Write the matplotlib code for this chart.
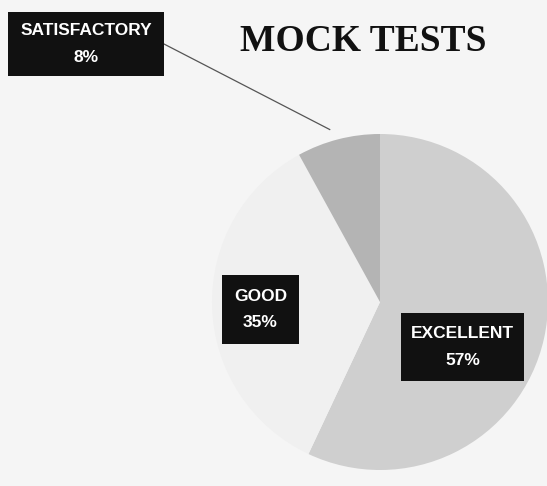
import numpy as np
import matplotlib
matplotlib.use("Agg")
import matplotlib.pyplot as plt
from matplotlib.patches import Rectangle

categories = ["EXCELLENT", "GOOD", "SATISFACTORY"]
values = [57, 35, 8]
colors = ["#cfcfcf", "#f0f0f0", "#b4b4b4"]
title = "MOCK TESTS"

W, H = 547, 486
fig = plt.figure(figsize=(W / 100, H / 100), dpi=100)
fig.patch.set_facecolor("#f5f5f5")
ax = fig.add_axes([0, 0, 1, 1])

cx, cy, r = 380, H - 302, 168
wedges, _ = ax.pie(values, colors=colors, startangle=90, counterclock=False,
                   center=(cx, cy), radius=r, frame=True,
                   wedgeprops=dict(linewidth=0))
ax.set_xlim(0, W)
ax.set_ylim(0, H)
ax.set_aspect("equal")
ax.axis("off")

# label boxes (pixel positions, y up)
boxes = {
    "SATISFACTORY": (8, H - 76, 156, 64),
    "GOOD": (222, H - 344, 77, 69),
    "EXCELLENT": (401, H - 381, 123, 68),
}
lab_font = ["Liberation Sans", "DejaVu Sans"]
for cat, val in zip(categories, values):
    x0, y0, w, h = boxes[cat]
    ax.add_patch(Rectangle((x0, y0), w, h, facecolor="#111111",
                           edgecolor="none", zorder=5))
    ax.text(x0 + w / 2, y0 + h / 2, f"{cat}\n{val}%", ha="center",
            va="center", color="white", fontsize=12.5, fontweight="bold",
            family=lab_font, linespacing=1.95, zorder=6)

# leader line for SATISFACTORY
cum = np.cumsum([0] + values[:-1])
idx = categories.index("SATISFACTORY")
mid = 90 - (cum[idx] + values[idx] / 2) / sum(values) * 360
ex = cx + r * 1.06 * np.cos(np.radians(mid)) - 6
ey = cy + r * 1.06 * np.sin(np.radians(mid))
bx, by, bw, bh = boxes["SATISFACTORY"]
ax.plot([bx + bw, ex], [by + bh / 2 + 0, ey], color="#555555", lw=0.9,
        zorder=4)

ax.text(363, H - 42, title, ha="center", va="center", fontsize=27,
        fontweight="bold", family=["Liberation Serif", "DejaVu Serif"],
        color="#111111")

fig.savefig("out.png", dpi=100, facecolor=fig.get_facecolor())
